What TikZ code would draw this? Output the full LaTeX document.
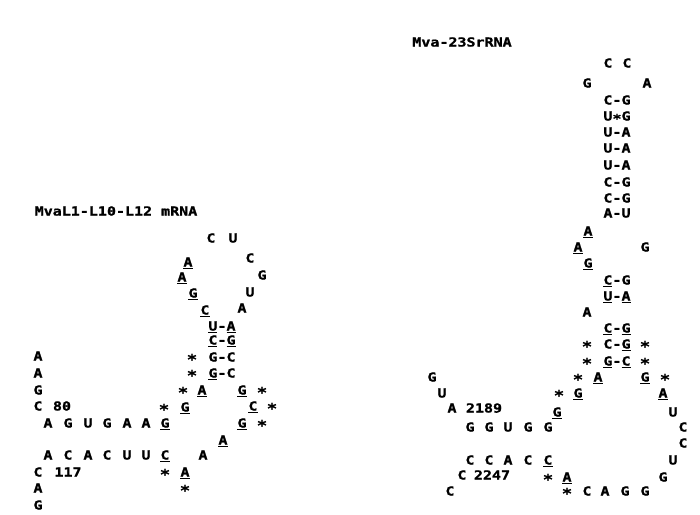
\documentclass[tikz,border=0pt]{standalone}
\usepackage{fontspec}
\newfontfamily\dm{DejaVu Sans Mono}[FakeStretch=1.2,FakeBold=1.2]
\newcommand\ulx[1]{\sbox0{#1}\rlap{\usebox0}\rule[-2.5pt]{\wd0}{1.5pt}}
\newcommand\st{\raisebox{-3pt}{\scalebox{1.15}{*}}}
\newcommand\sst{\raisebox{-2.6pt}{*}}
\begin{document}
\begin{tikzpicture}[x=1pt,y=-1pt,
  b/.style={inner sep=0pt, text height=9.1pt, text depth=0pt,
    font=\dm\bfseries\fontsize{12.5pt}{13pt}\selectfont}]
\useasboundingbox[fill=white] (0,0) rectangle (700,514);
% titles
\node[b] (t1) at (116,211) {MvaL1-L10-L12 mRNA};
\node[b] (t2) at (462,42) {Mva-23SrRNA};
% left structure
\foreach \t/\x/\y [count=\i] in {
  C/211/238, U/233/238, \ulx{A}/188/262, C/250/258, \ulx{A}/182/277, G/262/275,
  \ulx{G}/193/293, U/250/292, \ulx{C}/205/310, A/242/308,
  \ulx{U}-\ulx{A}/222/326, \ulx{C}-\ulx{G}/222/340,
  \st/192/357, G-C/222/357, \st/192/373, \ulx{G}-C/222/373,
  \st/183/390, \ulx{A}/202/390, \ulx{G}/242/390, \st/262/390,
  \st/164/407, \ulx{G}/185/407, \ulx{C}/253/406, \st/272/406,
  A/38/356, A/38/373, G/38/390, C/38/406, 80/62/406,
  A/48/423, G/68/423, U/88/423, G/107/423, A/127/423, A/146/423, \ulx{G}/165/423,
  \ulx{G}/242/423, \st/262/423, \ulx{A}/223/440,
  A/48/455, C/68/455, A/88/455, C/107/455, U/127/455, U/146/455, \ulx{C}/165/455,
  A/203/455, C/38/472, 117/68/472, \st/165/472, \ulx{A}/185/472,
  A/38/488, \st/185/488, G/38/505}
  \node[b] (l\i) at (\x,\y) {\t};
% right structure
\foreach \t/\x/\y [count=\i] in {
  C/608/63, C/627/63, G/587/83, A/647/83,
  C-G/617/100, U\sst G/617/116, U-A/617/132, U-A/617/148, U-A/617/165,
  C-G/617/182, C-G/617/198, A-U/617/213,
  \ulx{A}/588/231, \ulx{A}/578/247, G/645/247, \ulx{G}/588/263,
  \ulx{C}-G/617/280, \ulx{U}-\ulx{A}/617/296, A/587/312, \ulx{C}-\ulx{G}/617/328,
  \st/587/344, C-\ulx{G}/617/344, \st/645/344,
  \st/587/361, \ulx{G}-\ulx{C}/617/361, \st/645/361,
  \st/578/377, \ulx{A}/598/377, \ulx{G}/645/377, \st/665/377,
  \st/559/393, \ulx{G}/578/393, \ulx{A}/663/393,
  G/432/377, U/442/393, A/452/408, 2189/484/408,
  \ulx{G}/557/412, U/673/412,
  G/470/427, G/489/427, U/508/427, G/528/427, G/548/427, C/683/427, C/683/443,
  C/470/460, C/489/460, A/508/460, C/528/460, \ulx{C}/548/460, U/673/460,
  C/462/475, 2247/492/475, \st/548/477, \ulx{A}/567/477, G/663/477,
  C/450/491, \st/567/491, C/587/491, A/605/491, G/625/491, G/645/491}
  \node[b] (r\i) at (\x,\y) {\t};
\end{tikzpicture}
\end{document}
